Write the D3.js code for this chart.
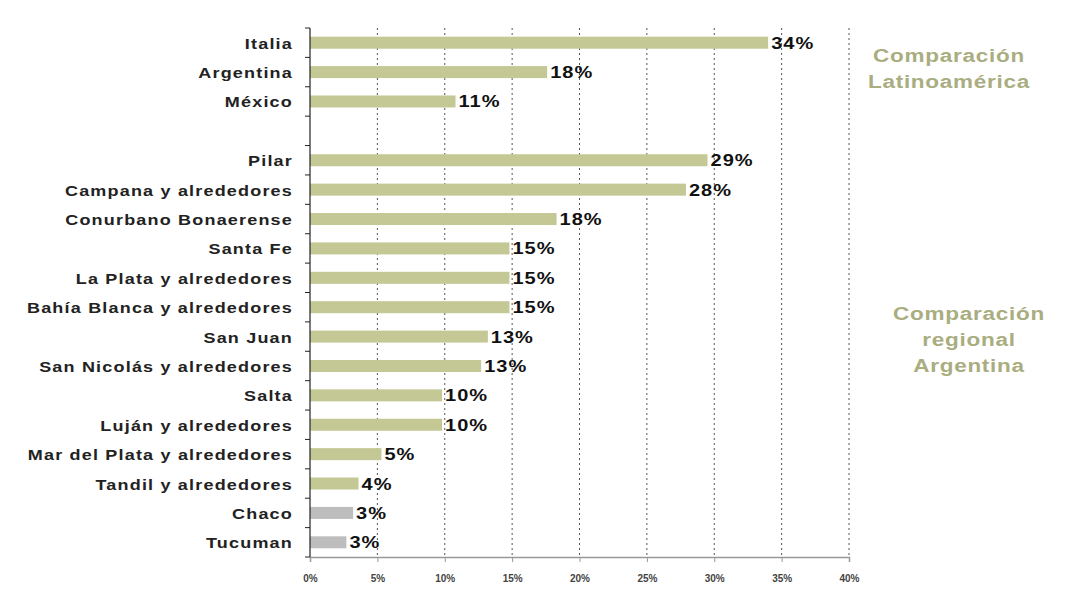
<!DOCTYPE html>
<html><head><meta charset="utf-8">
<script src="https://cdn.jsdelivr.net/npm/d3@7"></script>
<style>body{margin:0;background:#fff;}svg{display:block;}</style>
</head><body>
<svg id="c" width="1078" height="597"></svg>
<script>
const categories = ["Italia","Argentina","México","","Pilar","Campana y alrededores","Conurbano Bonaerense","Santa Fe","La Plata y alrededores","Bahía Blanca y alrededores","San Juan","San Nicolás y alrededores","Salta","Luján y alrededores","Mar del Plata y alrededores","Tandil y alrededores","Chaco","Tucuman"];
const values = [34, 17.6, 10.8, null, 29.5, 27.9, 18.3, 14.8, 14.8, 14.8, 13.2, 12.7, 9.8, 9.8, 5.3, 3.6, 3.2, 2.7];
const valueLabels = ["34%","18%","11%","","29%","28%","18%","15%","15%","15%","13%","13%","10%","10%","5%","4%","3%","3%"];
const grayBars = ["Chaco","Tucuman"];
const xTicks = [0,5,10,15,20,25,30,35,40];
const groupNotes = [
  {lines:["Comparación","Latinoamérica"], x:949, y:62},
  {lines:["Comparación","regional","Argentina"], x:969, y:320}
];

const svg = d3.select("#c");
const FONT = "Liberation Sans, Arial, sans-serif";
const mLeft = 310, mRight = 849, mTop = 28, mBottom = 557;
const x = d3.scaleLinear().domain([0,40]).range([mLeft,mRight]);
const y = d3.scaleBand().domain(categories.map((d,i)=>i)).range([mTop,mBottom]);

// gridlines
svg.append("g").selectAll("line").data(xTicks.filter(t=>t>0)).join("line")
  .attr("x1",d=>x(d)).attr("x2",d=>x(d)).attr("y1",mTop).attr("y2",mBottom)
  .attr("stroke","#555").attr("stroke-width",1).attr("stroke-dasharray","2,3");

// bottom axis
const xa = svg.append("g").attr("transform",`translate(0,${mBottom})`)
  .call(d3.axisBottom(x).tickValues(xTicks).tickFormat(d=>d+"%").tickSize(5).tickPadding(13));
xa.select(".domain").attr("stroke","#999").attr("stroke-width",1.5);
xa.selectAll(".tick line").attr("stroke","#999");
xa.selectAll("text").attr("font-family",FONT).attr("font-size",10).attr("font-weight","bold").attr("fill","#444");

// bars
svg.append("g").selectAll("rect").data(categories.map((c,i)=>({c,i,v:values[i]})).filter(d=>d.v!=null)).join("rect")
  .attr("x",x(0)).attr("y",d=>y(d.i)+y.bandwidth()/2-6)
  .attr("width",d=>x(d.v)-x(0)).attr("height",12)
  .attr("fill",d=>grayBars.includes(d.c)?"#bdbdbd":"#c3c894");

// value labels (wide-set font, as in the original)
svg.append("g").selectAll("text").data(categories.map((c,i)=>({i,v:values[i],l:valueLabels[i]})).filter(d=>d.v!=null)).join("text")
  .attr("transform",d=>`translate(${x(d.v)+3},${y(d.i)+y.bandwidth()/2+6}) scale(1.25,1)`)
  .attr("font-family",FONT).attr("font-size",16).attr("font-weight","bold").attr("fill","#111")
  .attr("letter-spacing","0.8")
  .text(d=>d.l);

// left axis line and ticks at band boundaries
svg.append("line").attr("x1",mLeft).attr("x2",mLeft).attr("y1",mTop).attr("y2",mBottom).attr("stroke","#222").attr("stroke-width",1.2);
const bounds = categories.map((c,i)=>y(i)).concat([mBottom]);
svg.append("g").selectAll("line").data(bounds).join("line")
  .attr("x1",mLeft-5).attr("x2",mLeft).attr("y1",d=>d).attr("y2",d=>d).attr("stroke","#222");

// category labels
svg.append("g").selectAll("text").data(categories.map((c,i)=>({c,i}))).join("text")
  .attr("transform",d=>`translate(${mLeft-17},${y(d.i)+y.bandwidth()/2+6}) scale(1.2,1)`)
  .attr("text-anchor","end").attr("font-family",FONT).attr("font-size",15).attr("font-weight","bold")
  .attr("letter-spacing","1").attr("fill","#222").text(d=>d.c);

// group notes
groupNotes.forEach(n=>{
  n.lines.forEach((l,k)=>svg.append("text")
    .attr("transform",`translate(${n.x},${n.y+k*26}) scale(1.25,1)`)
    .attr("text-anchor","middle").attr("font-family",FONT)
    .attr("font-size",18).attr("font-weight","bold").attr("fill","#a9ad80").attr("letter-spacing","0.6")
    .text(l));
});
</script>
</body></html>
